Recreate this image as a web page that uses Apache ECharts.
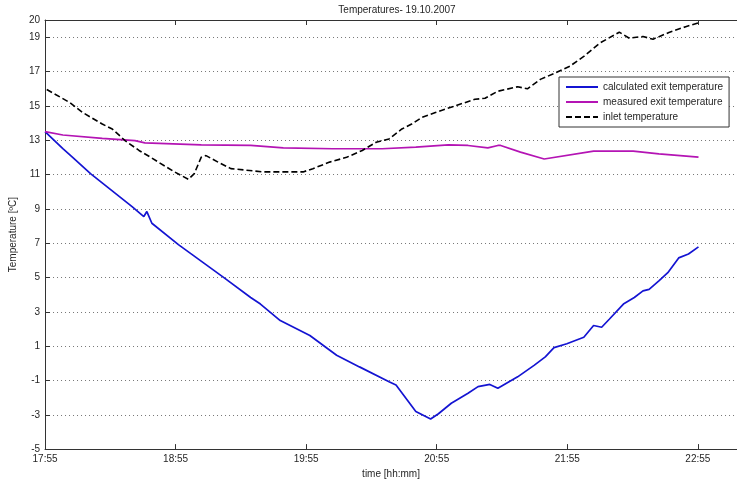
<!DOCTYPE html>
<html>
<head>
<meta charset="utf-8">
<script src="https://cdn.jsdelivr.net/npm/echarts@6/dist/echarts.min.js"></script>
<style>html,body{margin:0;padding:0;background:#fff;}#c{width:737px;height:484px;}</style>
</head>
<body>
<div id="c"></div>
<script>
// x values: minutes after 17:55
var START_H = 17, START_M = 55;
var calcTimes = [0, 8.2, 12.7, 20.9, 40.0, 45.4, 46.8, 49.1, 61.3, 82.2, 94.5, 99.0, 108.1, 121.7, 134.0, 144.5, 158.1, 161.3, 170.4, 177.2, 180.8, 186.7, 194.4, 199.0, 204.4, 208.1, 217.2, 224.9, 229.9, 233.9, 239.8, 247.6, 252.1, 255.8, 259.4, 265.8, 270.8, 274.8, 277.6, 282.1, 286.2, 291.2, 295.7, 300.3];
var calcValues = [13.5, 12.5, 12.0, 11.05, 9.13, 8.55, 8.84, 8.16, 6.91, 4.99, 3.83, 3.45, 2.49, 1.62, 0.47, -0.21, -1.07, -1.27, -2.81, -3.25, -2.94, -2.33, -1.75, -1.36, -1.23, -1.46, -0.79, -0.11, 0.37, 0.91, 1.14, 1.52, 2.2, 2.1, 2.58, 3.45, 3.83, 4.22, 4.31, 4.8, 5.28, 6.14, 6.37, 6.78];

var measTimes = [0, 8.2, 26.3, 41.3, 45.9, 71.8, 94.5, 109.5, 132.2, 154.9, 170.4, 185.3, 194.4, 203.5, 208.1, 209.4, 218.5, 229.4, 252.1, 270.3, 282.1, 300.3];
var measValues = [13.5, 13.3, 13.1, 12.97, 12.84, 12.72, 12.69, 12.55, 12.5, 12.5, 12.59, 12.72, 12.69, 12.55, 12.69, 12.69, 12.3, 11.9, 12.36, 12.36, 12.2, 12.01];

var inletTimes = [0.8, 11.4, 17.3, 26.3, 30.9, 36.8, 43.2, 49.1, 52.1, 59.5, 65.9, 68.6, 71.8, 74.0, 79.5, 85.4, 100.4, 118.6, 123.1, 130.8, 138.6, 145.8, 152.2, 158.1, 164.0, 168.5, 173.1, 179.4, 188.5, 197.6, 202.2, 208.1, 217.2, 221.7, 227.6, 233.9, 241.2, 247.6, 254.9, 263.9, 268.5, 274.8, 279.4, 286.7, 294.4, 300.3];
var inletValues = [15.95, 15.19, 14.61, 13.94, 13.65, 12.97, 12.4, 11.96, 11.72, 11.15, 10.72, 11.05, 12.01, 12.1, 11.72, 11.34, 11.15, 11.15, 11.34, 11.72, 12.0, 12.4, 12.88, 13.07, 13.65, 13.94, 14.32, 14.61, 15.0, 15.38, 15.44, 15.85, 16.11, 15.99, 16.54, 16.88, 17.31, 17.88, 18.65, 19.29, 18.94, 19.04, 18.88, 19.27, 19.61, 19.84];

var seriesNames = ['calculated exit temperature', 'measured exit temperature', 'inlet temperature'];
var titleText = 'Temperatures- 19.10.2007';
var xName = 'time [hh:mm]';
var yName = 'Temperature [\u00baC]';

function zip(a, b) { return a.map(function (t, i) { return [t, b[i]]; }); }
function fmtTime(v) {
  var tot = START_H * 60 + START_M + Math.round(v);
  var h = Math.floor(tot / 60) % 24, m = tot % 60;
  return h + ':' + (m < 10 ? '0' : '') + m;
}

var FONT = 'Liberation Sans';
var TXT = '#262626';
var chart = echarts.init(document.getElementById('c'), null, { renderer: 'canvas' });
chart.setOption({
  animation: false,
  backgroundColor: '#fff',
  title: {
    text: titleText, left: 392, top: 0, textAlign: 'center',
    textStyle: { fontFamily: FONT, fontSize: 10, fontWeight: 'normal', color: TXT }
  },
  grid: { left: 42, top: 20, width: 700, height: 433, containLabel: false },
  legend: {
    left: 559, top: 77, orient: 'vertical',
    backgroundColor: '#fff', borderColor: '#333', borderWidth: 1,
    padding: [5, 6, 5, 6], itemWidth: 32, itemHeight: 12, itemGap: 5, itemTextGap: 3,
    itemStyle: { opacity: 0 },
    textStyle: { fontFamily: FONT, fontSize: 10, color: TXT },
    data: seriesNames
  },
  xAxis: [{
    type: 'value', min: 0, max: 318, interval: 60,
    name: xName, nameLocation: 'middle', nameGap: 17,
    nameTextStyle: { fontFamily: FONT, fontSize: 10, color: TXT },
    axisLine: { show: true, onZero: false, lineStyle: { color: '#333', width: 1 } },
    axisTick: { show: true, inside: true, length: 5, lineStyle: { color: '#333' } },
    axisLabel: { formatter: fmtTime, fontFamily: FONT, fontSize: 10, color: TXT, margin: 5, showMaxLabel: false },
    splitLine: { show: false }
  }, {
    type: 'value', min: 0, max: 318, interval: 60, position: 'top',
    axisLine: { show: true, onZero: false, lineStyle: { color: '#333', width: 1 } },
    axisTick: { show: true, inside: true, length: 5, lineStyle: { color: '#333' } },
    axisLabel: { show: false }, splitLine: { show: false }
  }],
  yAxis: {
    type: 'value', min: -5, max: 20, interval: 2,
    name: yName, nameLocation: 'middle', nameGap: 16, nameRotate: 90,
    nameTextStyle: { fontFamily: FONT, fontSize: 10, color: TXT },
    axisLine: { show: true, onZero: false, lineStyle: { color: '#333', width: 1 } },
    axisTick: { show: true, inside: true, length: 5, lineStyle: { color: '#333' } },
    axisLabel: { fontFamily: FONT, fontSize: 10, color: TXT, margin: 5 },
    splitLine: { show: true, lineStyle: { color: '#777', width: 1, type: [1, 3] } }
  },
  series: [{
    name: seriesNames[0], type: 'line', data: zip(calcTimes, calcValues),
    showSymbol: false, symbol: 'none', smooth: false,
    lineStyle: { color: '#1414d2', width: 1.7 }, itemStyle: { color: '#1414d2' }
  }, {
    name: seriesNames[1], type: 'line', data: zip(measTimes, measValues),
    showSymbol: false, symbol: 'none',
    lineStyle: { color: '#b414b4', width: 1.7 }, itemStyle: { color: '#b414b4' }
  }, {
    name: seriesNames[2], type: 'line', data: zip(inletTimes, inletValues),
    showSymbol: false, symbol: 'none',
    lineStyle: { color: '#000', width: 1.6, type: [6, 3] }, itemStyle: { color: '#000' }
  }]
});
</script>
</body>
</html>
